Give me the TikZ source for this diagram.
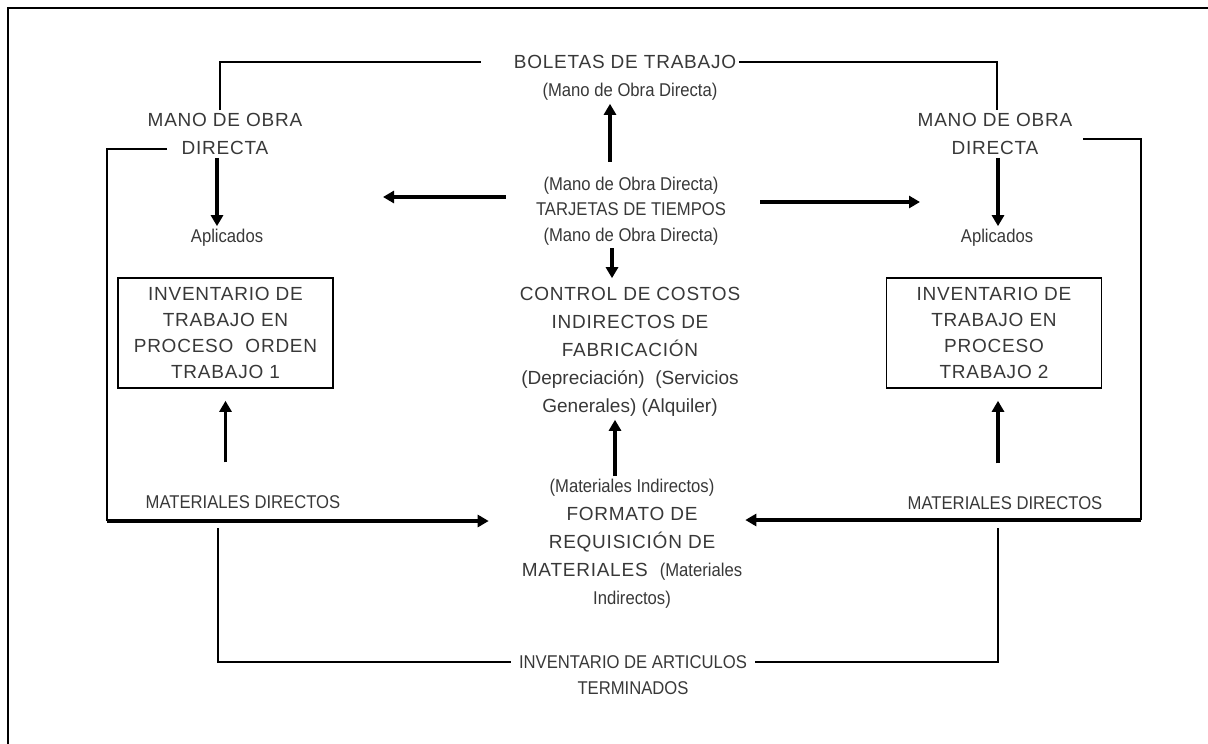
\documentclass[tikz,border=0pt]{standalone}
\usepackage{fontspec}
\setmainfont{Liberation Sans}
\newfontfamily\spacedfont[LetterSpace=4]{Liberation Sans}
\newfontfamily\narrowfont[FakeStretch=0.9]{Liberation Sans}
\usetikzlibrary{arrows.meta}

\newcommand{\smallpart}[1]{{\narrowfont\fontsize{18.5}{28}\selectfont #1}}
\newcommand{\plainpart}[1]{{\normalfont\fontsize{19}{28}\selectfont #1}}

\begin{document}
\begin{tikzpicture}[x=1pt, y=-1pt]
            \tikzstyle{Big Text} = [inner sep=3pt, align=center, text=black!78, font=\spacedfont\fontsize{19}{28}\selectfont]
            \tikzstyle{Small Text} = [inner sep=3pt, align=center, text=black!78, font=\narrowfont\fontsize{18.5}{25.5}\selectfont]
            \tikzstyle{Box} = [Big Text, draw=black, line width=1.6pt, minimum width=215pt, minimum height=110pt, font=\spacedfont\fontsize{19}{26}\selectfont]
            \tikzstyle{Line} = [line width=2pt, color=black]
            \tikzstyle{Edge} = [line width=3.5pt, color=black, -{Triangle[length=11pt, width=12pt]}]
            \useasboundingbox (0, 0) rectangle (1208, 744);
            \draw[Line] (1212, 8) -- (8, 8) -- (8, 748);
            % top
            \node[Big Text] (boletas) at (625, 62) {BOLETAS DE TRABAJO};
            \node[Small Text] (boletas sub) at (630, 92) {(Mano de Obra Directa)};
            \node[Big Text] (mano left) at (225, 134) {MANO DE OBRA\\DIRECTA};
            \node[Big Text] (mano right) at (995, 134) {MANO DE OBRA\\DIRECTA};
            \node[Small Text] (aplicados left) at (227, 238) {Aplicados};
            \node[Small Text] (aplicados right) at (997, 238) {Aplicados};
            % center column
            \node[Small Text] (tarjetas) at (631, 211) {(Mano de Obra Directa)\\TARJETAS DE TIEMPOS\\(Mano de Obra Directa)};
            \node[Big Text] (control) at (630, 352) {CONTROL DE COSTOS\\INDIRECTOS DE\\FABRICACIÓN\\\plainpart{(Depreciación)~~(Servicios}\\\plainpart{Generales) (Alquiler)}};
            \node[Big Text] (formato) at (632, 544) {\smallpart{(Materiales Indirectos)}\\FORMATO DE\\REQUISICIÓN DE\\MATERIALES~~\smallpart{(Materiales}\\\smallpart{Indirectos)}};
            % boxes
            \node[Box] (wip one) at (225.5, 333) {INVENTARIO DE\\TRABAJO EN\\PROCESO~~ORDEN\\TRABAJO 1};
            \node[Box] (wip two) at (994, 333) {INVENTARIO DE\\TRABAJO EN\\PROCESO\\TRABAJO 2};
            \node[Small Text] (directos left) at (243, 502) {MATERIALES DIRECTOS};
            \node[Small Text] (directos right) at (1005, 503) {MATERIALES DIRECTOS};
            % bottom
            \node[Small Text, inner xsep=8pt] (terminados) at (633, 662) {INVENTARIO DE ARTICULOS};
            \node[Small Text] (terminados sub) at (633, 688) {TERMINADOS};
            \coordinate (mano left end) at (167, 149);
            \coordinate (mano right end) at (1083, 139);
            \coordinate (corner left) at (107, 521);
            \coordinate (corner right) at (1141, 520);
            \coordinate (bottom left) at (218, 528);
            \coordinate (bottom right) at (998, 528);
            \coordinate (tarjetas left) at (383, 197);
            \coordinate (tarjetas right) at (920, 202);
            % connectors
            \draw[Line] ([xshift=-5pt]mano left.north) |- ([xshift=-30pt]boletas.west);
            \draw[Line] (boletas.east) -| ([xshift=2pt]mano right.north);
            \draw[Line] (mano left end) -| (corner left);
            \draw[Line] (mano right end) -| (corner right);
            \draw[Edge, shorten >=30pt] (corner left) -- (formato.west |- corner left);
            \draw[Edge] (corner right) -- (formato.east |- corner right);
            \draw[Edge] ([xshift=-8pt]mano left.south) -- ([xshift=-8pt]mano left.south |- aplicados left.north);
            \draw[Edge] ([xshift=3pt]mano right.south) -- ([xshift=3pt]mano right.south |- aplicados right.north);
            \draw[Edge] ([shift={(-21, -12)}]tarjetas.north) -- ([xshift=-20pt]boletas sub.south);
            \draw[Edge] ([shift={(-27, -14)}]tarjetas.west) -- (tarjetas left);
            \draw[Edge] ([shift={(31, -9)}]tarjetas.east) -- (tarjetas right);
            \draw[Edge] ([xshift=-19pt]tarjetas.south) -- ([xshift=-18pt, yshift=6pt]control.north);
            \draw[Edge] ([xshift=-17pt]formato.north) -- ([xshift=-15pt]control.south);
            \draw[Edge, shorten <=30pt, shorten >=12pt] (directos left.north -| wip one.south) -- (wip one.south);
            \draw[Edge, shorten <=30pt, shorten >=12pt] ([xshift=4pt]directos right.north -| wip two.south) -- ([xshift=4pt]wip two.south);
            \draw[Line] (bottom left) |- (terminados.west);
            \draw[Line] (bottom right) |- (terminados.east);
        \end{tikzpicture}
\end{document}
